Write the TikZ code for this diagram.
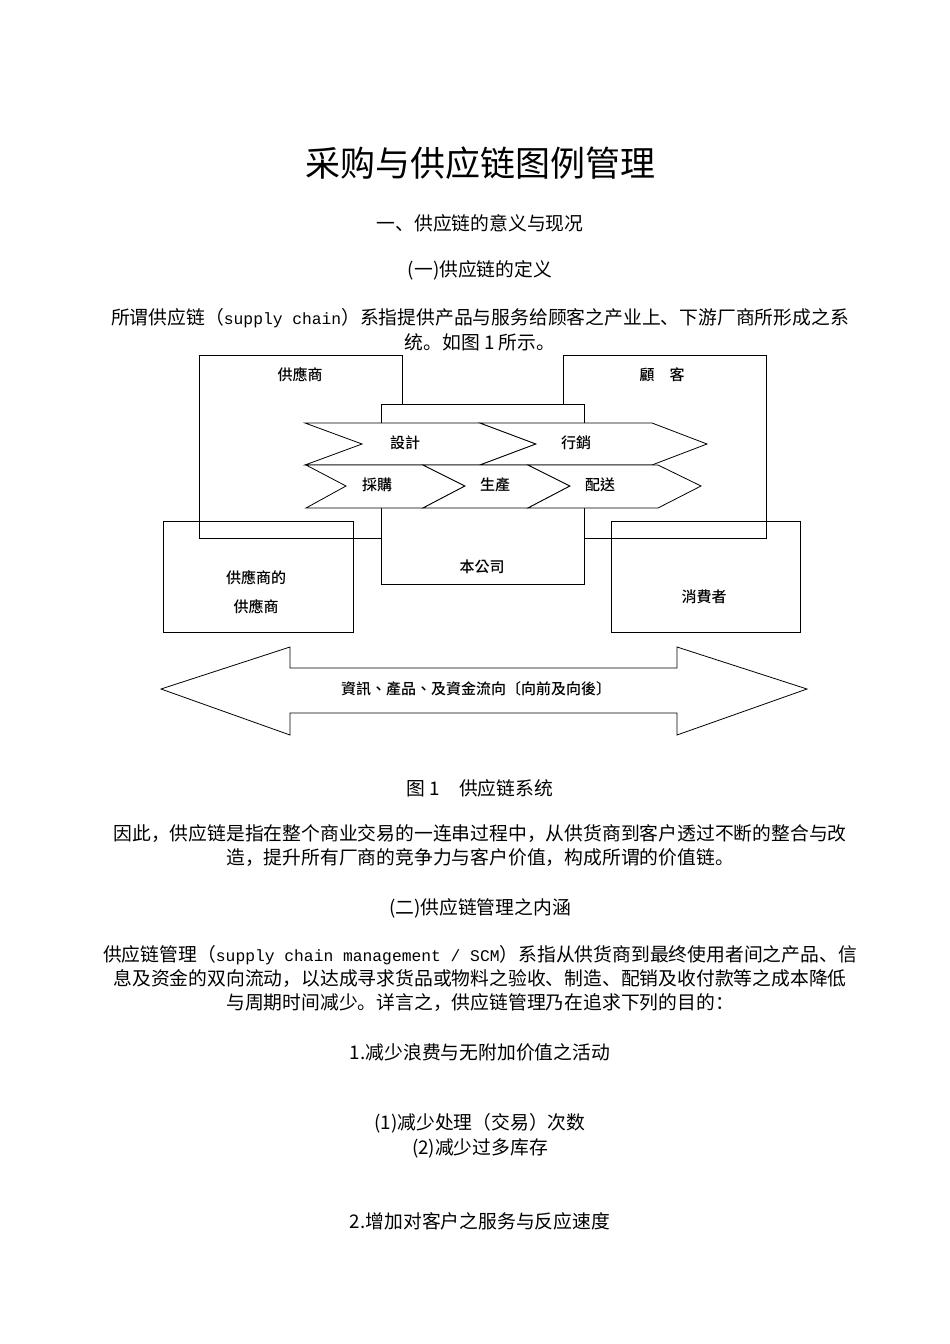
\documentclass[tikz,border=0pt]{standalone}
\usepackage{fontspec}
\setmainfont{Noto Sans CJK SC}
\newfontfamily\cjk{Noto Sans CJK SC}
\newfontfamily\tcfont{Noto Sans CJK TC Medium}
\newfontfamily\mono{Liberation Mono}
\begin{document}
\begin{tikzpicture}[x=1pt,y=-1pt,
  body/.style={font=\cjk\fontsize{18.8}{20}\selectfont,inner sep=0pt,anchor=center},
  lab/.style={font=\tcfont\fontsize{15}{16}\selectfont,inner sep=0pt},
  bx/.style={draw,line width=0.8pt},
  chev/.style={draw,fill=white,line width=0.8pt,line join=miter}]
\useasboundingbox[fill=white] (0,0) rectangle (950,1344);
% title and text
\node[body,font=\cjk\fontsize{35}{36}\selectfont] (title) at (480,163) {采购与供应链图例管理};
\node[body] (h1) at (480,223) {一、供应链的意义与现况};
\node[body] (h2) at (480,270) {(一)供应链的定义};
\node[body] (p1a) at (480,318) {所谓供应链（{\mono\fontsize{16.3}{18}\selectfont supply chain}）系指提供产品与服务给顾客之产业上、下游厂商所形成之系};
\node[body] (p1b) at (480,342) {统。如图 1 所示。};
% diagram boxes
\draw[bx] (199,355) rectangle (402,538);
\draw[bx] (563,355) rectangle (766,538);
\draw[bx] (163,521) rectangle (353,632);
\draw[bx] (611,521) rectangle (800,632);
\draw[bx,fill=white] (381,404) rectangle (584,584);
\node[lab] (sup) at (300,375) {供應商};
\node[lab] (cus) at (662,375) {顧\quad 客};
\node[lab] (co) at (482,567) {本公司};
\node[lab,align=center,font=\tcfont\fontsize{15}{29}\selectfont] (ss) at (256,592) {供應商的\\供應商};
\node[lab] (con) at (704,597) {消費者};
% chevrons top row
\draw[chev] (305,423) -- (480,423) -- (536,444) -- (480,465) -- (305,465) -- (362,444) -- cycle;
\draw[chev] (480,423) -- (652,423) -- (707,444) -- (652,465) -- (480,465) -- (536,444) -- cycle;
% bottom row
\draw[chev] (306,465) -- (423,465) -- (465,486) -- (423,508) -- (306,508) -- (346,486) -- cycle;
\draw[chev] (423,465) -- (528,465) -- (570,486) -- (528,508) -- (423,508) -- (465,486) -- cycle;
\draw[chev] (528,465) -- (658,465) -- (701,486) -- (658,508) -- (528,508) -- (570,486) -- cycle;
\node[lab] (d1) at (405,443) {設計};
\node[lab] (d2) at (576,443) {行銷};
\node[lab] (d3) at (377,485) {採購};
\node[lab] (d4) at (495,485) {生產};
\node[lab] (d5) at (600,485) {配送};
% big double arrow
\draw[chev] (161,689) -- (290,647) -- (290,668) -- (677,668) -- (677,647) -- (807,689) -- (677,735) -- (677,713) -- (290,713) -- (290,735) -- cycle;
\node[lab] (flow) at (476,689) {資訊、產品、及資金流向〔向前及向後〕};
% text below
\node[body] (cap) at (480,788) {图 1\quad 供应链系统};
\node[body] (p2a) at (480,834) {因此，供应链是指在整个商业交易的一连串过程中，从供货商到客户透过不断的整合与改};
\node[body] (p2b) at (480,858) {造，提升所有厂商的竞争力与客户价值，构成所谓的价值链。};
\node[body] (h3) at (480,908) {(二)供应链管理之内涵};
\node[body] (p3a) at (480,955) {供应链管理（{\mono\fontsize{16.3}{18}\selectfont supply chain management / SCM}）系指从供货商到最终使用者间之产品、信};
\node[body] (p3b) at (480,979) {息及资金的双向流动，以达成寻求货品或物料之验收、制造、配销及收付款等之成本降低};
\node[body] (p3c) at (480,1003) {与周期时间减少。详言之，供应链管理乃在追求下列的目的：};
\node[body] (l1) at (480,1052) {1.减少浪费与无附加价值之活动};
\node[body] (l2) at (480,1123) {(1)减少处理（交易）次数};
\node[body] (l3) at (480,1148) {(2)减少过多库存};
\node[body] (l4) at (480,1221) {2.增加对客户之服务与反应速度};
\end{tikzpicture}
\end{document}
